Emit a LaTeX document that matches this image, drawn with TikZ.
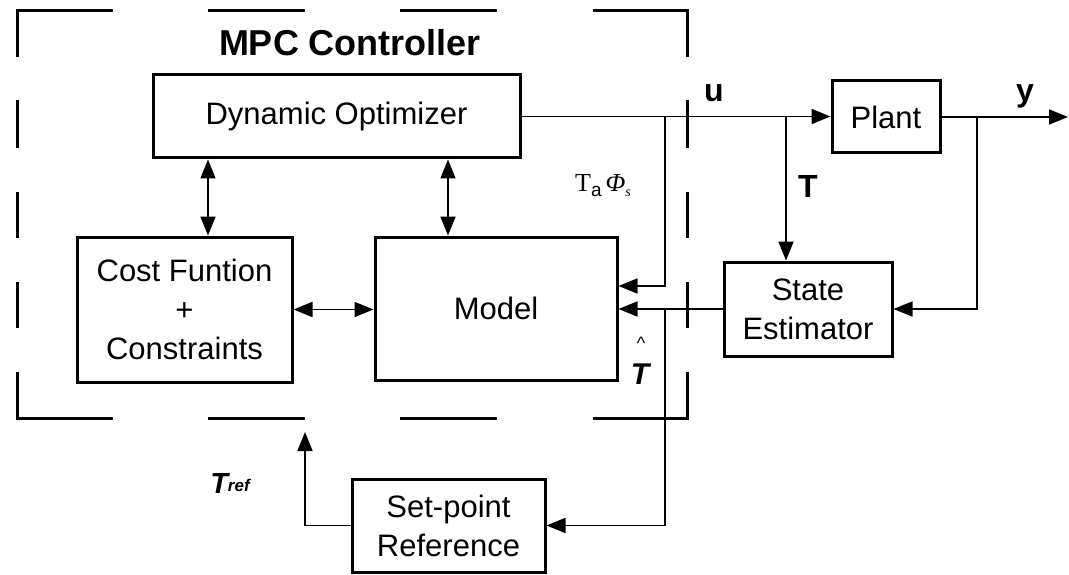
\documentclass[tikz,border=0pt]{standalone}
\usepackage{fontspec}
\setmainfont{Liberation Sans}
\newfontfamily\libserif{Liberation Serif}
\usetikzlibrary{arrows.meta}
\begin{document}
\begin{tikzpicture}[x=1pt,y=-1pt,
  blk/.style={draw,line width=3pt,inner sep=0pt,align=center,
    font=\fontsize{31}{39}\selectfont},
  conn/.style={line width=1.8pt},
  tip/.style={-{Triangle[length=19pt,width=15pt]}},
  dtip/.style={{Triangle[length=19pt,width=15pt]}-{Triangle[length=19pt,width=15pt]}},
  frame/.style={line width=3pt},
  lbl/.style={inner sep=0pt,font=\fontsize{32}{32}\selectfont\bfseries}]
\useasboundingbox (0,0) rectangle (1069,575);

% dashed controller frame
\draw[frame] (17,57) -- (17,11) -- (113,11);
\draw[frame] (208,11) -- (305,11);
\draw[frame] (400,11) -- (497,11);
\draw[frame] (593,11) -- (687,11) -- (687,57);
\foreach \a/\b in {100/148,192/238,282/328}{
  \draw[frame] (17,\a) -- (17,\b);
  \draw[frame] (687,\a) -- (687,\b);
}
\draw[frame] (17,372) -- (17,418) -- (113,418);
\draw[frame] (208,418) -- (305,418);
\draw[frame] (400,418) -- (497,418);
\draw[frame] (593,418) -- (687,418) -- (687,372);

\node[inner sep=0pt,font=\fontsize{36}{36}\selectfont\bfseries] (title) at (350,43) {MPC Controller};

% blocks
\node[blk,minimum width=367pt,minimum height=83pt] (DO) at (336.5,116.5) {Dynamic Optimizer};
\node[blk,minimum width=215pt,minimum height=145pt] (Cost) at (184.5,309.5) {Cost Funtion\\+\\Constraints};
\node[blk,minimum width=242pt,minimum height=143pt] (Model) at (496,308.5) {Model};
\node[blk,minimum width=108pt,minimum height=72pt] (Plant) at (886,117) {Plant};
\node[blk,minimum width=168pt,minimum height=94pt] (State) at (808,309) {State\\Estimator};
\node[blk,minimum width=193pt,minimum height=93pt] (SetP) at (448.5,525.5) {Set-point\\Reference};

% junctions and free ends
\coordinate (j1) at (665,117);
\coordinate (j2) at (786,117);
\coordinate (j4) at (977,117);
\coordinate (ta) at (640,286);
\coordinate (out) at (1068,117);
\coordinate (tr) at (305,432);
\coordinate (c1) at (208,0);
\coordinate (c2) at (448,0);

% connectors
\draw[conn,tip] (DO.east) -- (DO.east -| Plant.west);
\draw[conn,tip] (j1) |- (Model.east |- ta);
\draw[conn,tip] (j2) -- (j2 |- State.north);
\draw[conn,tip] (Plant.east) -- (out);
\draw[conn,tip] (j4) |- (State.east);
\draw[conn,tip] (State.west) -- (State.west -| Model.east);
\draw[conn,tip] (State.west -| j1) |- (SetP.east);
\draw[conn,tip] (SetP.west) -| (tr);
\draw[conn,dtip] (DO.south -| c1) -- (Cost.north -| c1);
\draw[conn,dtip] (DO.south -| c2) -- (Model.north -| c2);
\draw[conn,dtip] (Cost.east) -- (Cost.east -| Model.west);

% labels
\node[lbl] (lu) at (714,93) {u};
\node[lbl] (ly) at (1025,96) {y};
\node[lbl] (lT) at (808,186) {T};
\node[inner sep=0pt] (lTa) at (603,186)
  {{\libserif\fontsize{26}{26}\selectfont T}\raisebox{-5pt}{\fontsize{19}{19}\selectfont a}\hspace{4pt}{\libserif\itshape\fontsize{26}{26}\selectfont Φ}\raisebox{-5pt}{\libserif\itshape\fontsize{14}{14}\selectfont s}};
\node[inner sep=0pt,font=\fontsize{18}{18}\selectfont] (hat) at (641,343) {\textasciicircum};
\node[inner sep=0pt,font=\fontsize{30}{30}\selectfont\bfseries\itshape] (lTh) at (640,374) {T};
\node[inner sep=0pt,font=\bfseries\itshape] (lTr) at (230,484)
  {{\fontsize{29}{29}\selectfont T}\raisebox{2pt}{\fontsize{17}{17}\selectfont ref}};
\end{tikzpicture}
\end{document}
